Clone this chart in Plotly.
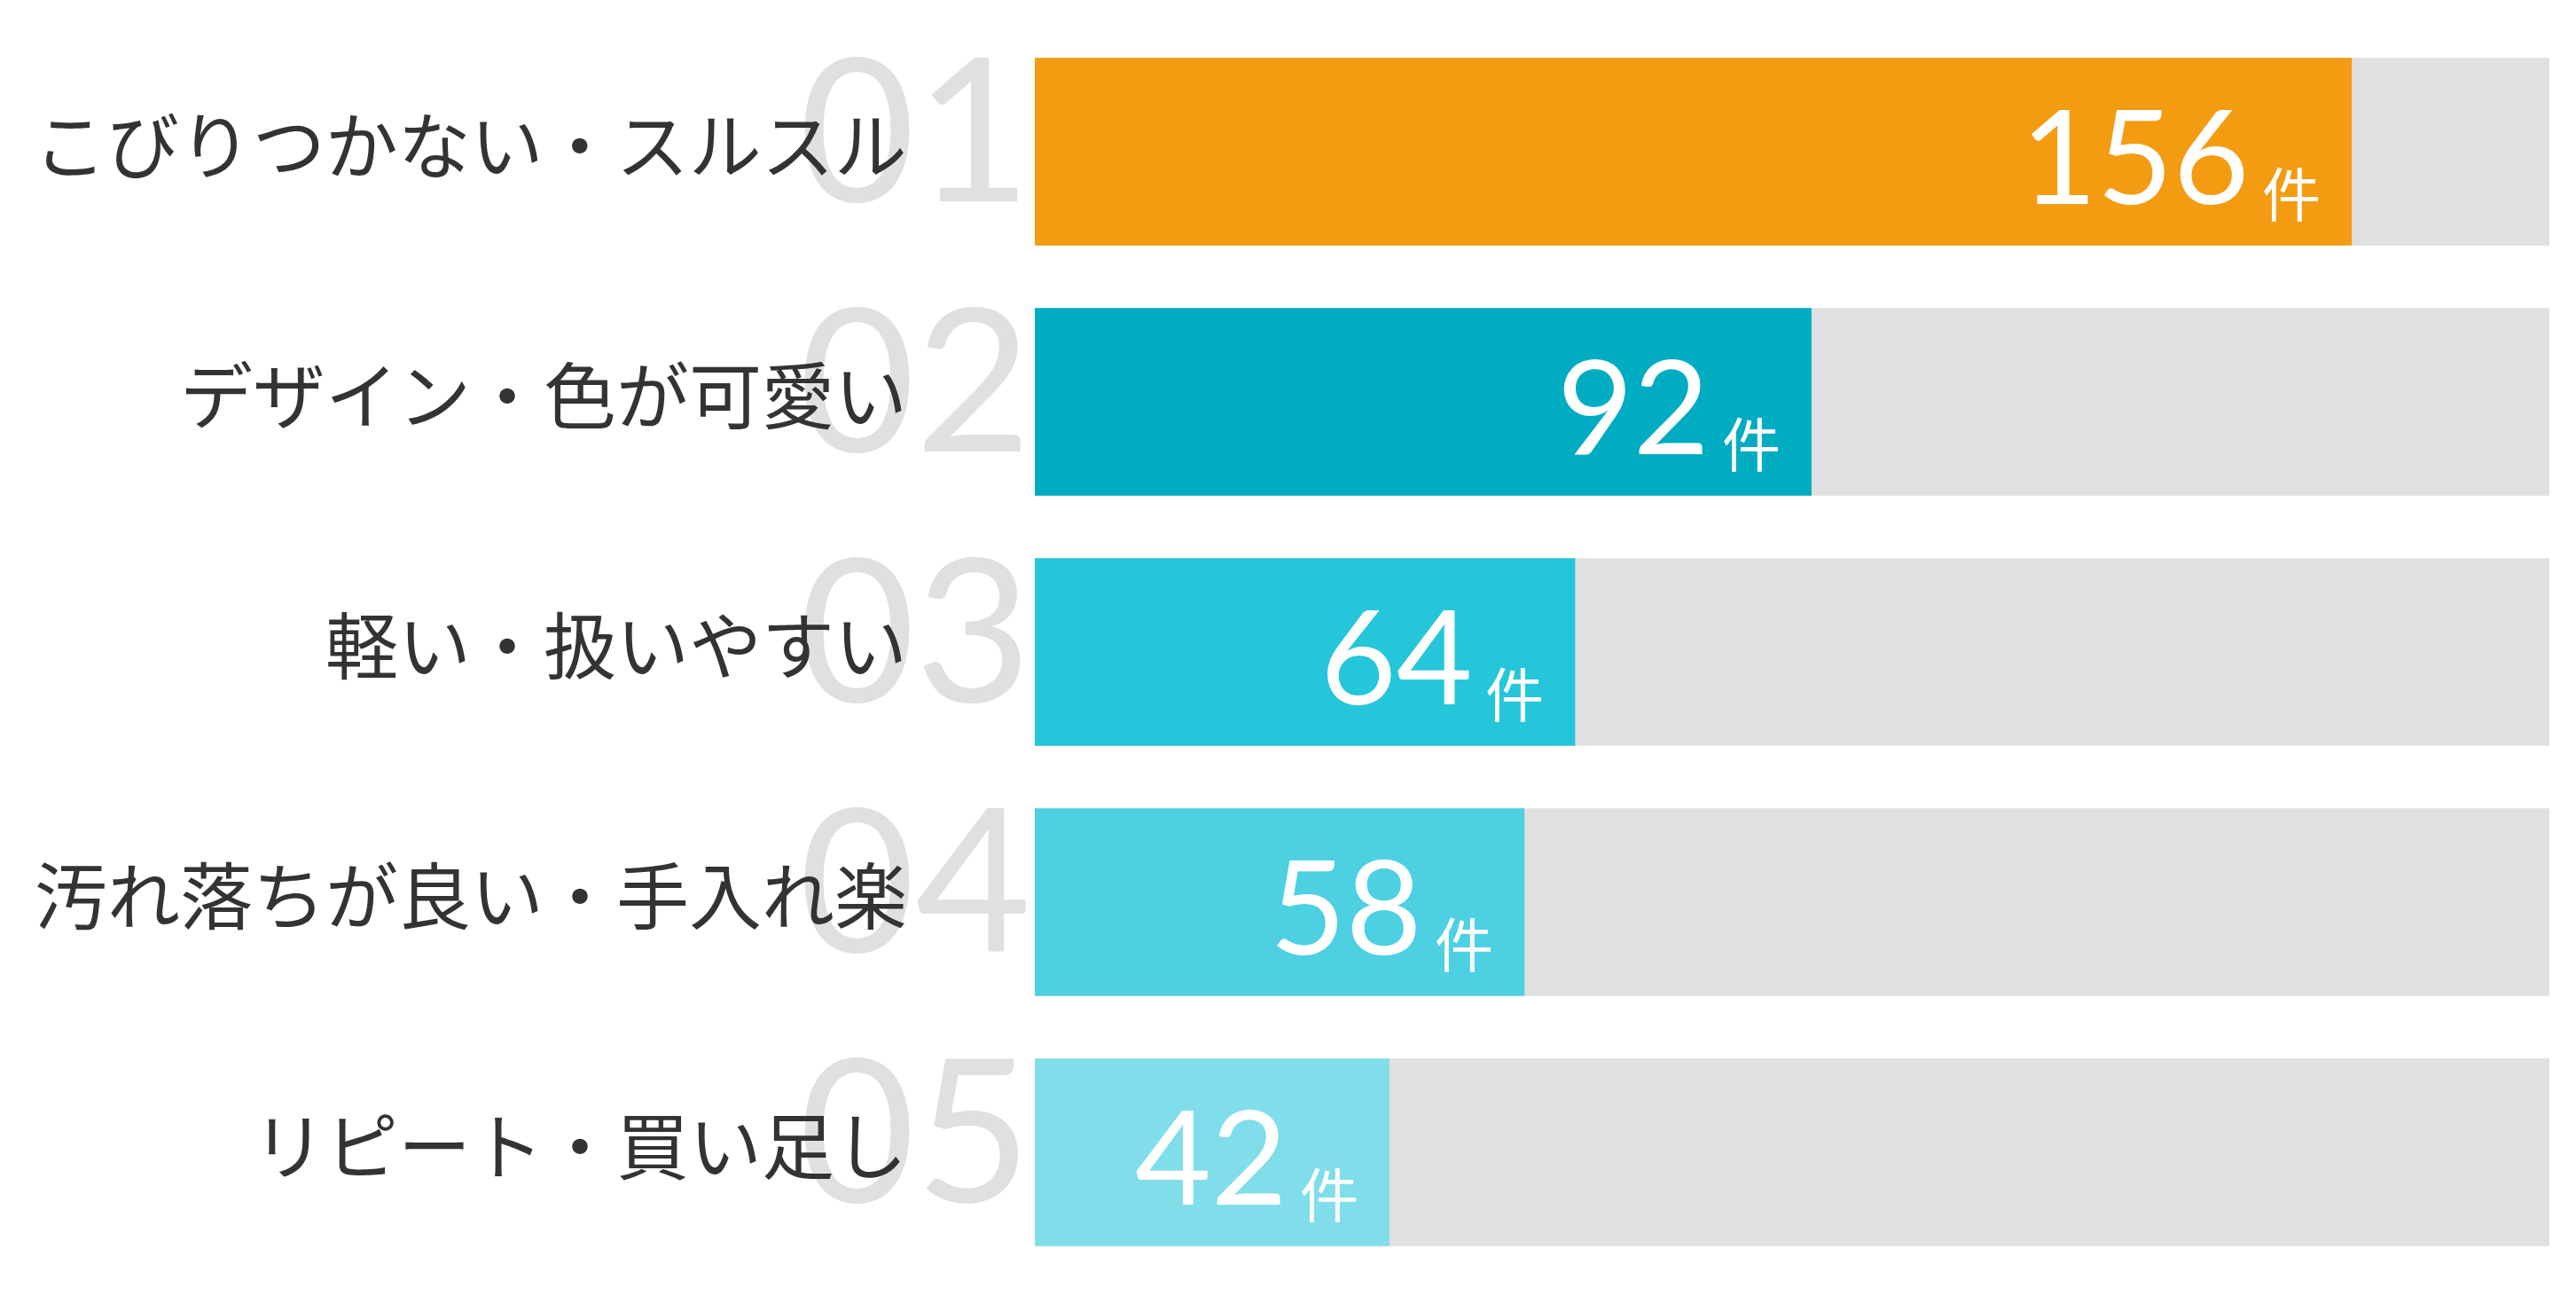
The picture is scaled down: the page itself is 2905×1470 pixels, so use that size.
import plotly.graph_objects as go

# ---- data ----
categories = ["こびりつかない・スルスル", "デザイン・色が可愛い", "軽い・扱いやすい",
              "汚れ落ちが良い・手入れ楽", "リピート・買い足し"]
ranks = ["01", "02", "03", "04", "05"]
counts = [156, 92, 64, 58, 42]
unit = "件"
scale_max = 179.4
bar_colors = ["#F39C12", "#00ACC1", "#26C6DA", "#4DD0E1", "#80DEEA"]
track_color = "#E0E0E0"

JP = "Noto Sans CJK JP"
NUM = "Lato"

fig = go.Figure()
fig.add_trace(go.Bar(
    y=categories, x=[scale_max] * len(categories), orientation="h",
    marker=dict(color=track_color, line=dict(width=0)), width=0.75,
    hoverinfo="skip", showlegend=False))
fig.add_trace(go.Bar(
    y=categories, x=counts, orientation="h",
    marker=dict(color=bar_colors, line=dict(width=0)), width=0.75,
    showlegend=False))

annotations = []
# big rank numbers (behind labels)
for cat, rk in zip(categories, ranks):
    annotations.append(dict(
        xref="paper", yref="y", x=0, y=cat, text=rk, showarrow=False,
        xanchor="right", yanchor="middle", xshift=-2, yshift=32,
        font=dict(family=NUM, size=226, color="#E0E0E0", weight=400)))
# category labels
for cat in categories:
    annotations.append(dict(
        xref="paper", yref="y", x=0, y=cat, text=cat, showarrow=False,
        xanchor="right", yanchor="middle", xshift=-142, yshift=12,
        font=dict(family=JP, size=82, color="#333333")))
# value labels
for cat, v in zip(categories, counts):
    annotations.append(dict(
        xref="x", yref="y", x=v, y=cat, text=unit, showarrow=False,
        xanchor="right", yanchor="middle", xshift=-33, yshift=-44,
        font=dict(family=JP, size=66, color="#FFFFFF")))
    annotations.append(dict(
        xref="x", yref="y", x=v, y=cat, text=str(v), showarrow=False,
        xanchor="right", yanchor="middle", xshift=-33 - 66 - 14, yshift=-2,
        font=dict(family=NUM, size=148, color="#FFFFFF", weight=400)))

fig.update_layout(
    width=2905, height=1470,
    margin=dict(l=1167, r=30, t=30, b=30),
    paper_bgcolor="white", plot_bgcolor="white",
    barmode="overlay",
    xaxis=dict(range=[0, scale_max], visible=False, fixedrange=True),
    yaxis=dict(range=[len(categories) - 0.5, -0.5], visible=False, fixedrange=True),
    annotations=annotations,
)

fig.write_html("out.html", config={"displayModeBar": False},
               post_script="document.body.style.margin='0';document.body.style.overflow='hidden';")
